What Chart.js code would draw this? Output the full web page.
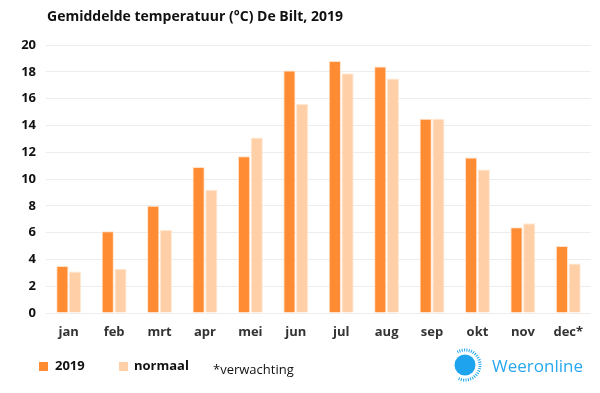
<!DOCTYPE html>
<html><head><meta charset="utf-8">
<script src="https://cdn.jsdelivr.net/npm/chart.js@4"></script>
<style>
html,body{margin:0;padding:0;background:#fff;}
#wrap{position:relative;width:600px;height:393px;font-family:"Open Sans",sans-serif;}
#c{position:absolute;left:0;top:0;}
.t{position:absolute;white-space:nowrap;color:#111;}
.sq{position:absolute;width:9px;height:9px;}
</style></head><body>
<div id="wrap">
<canvas id="c" width="600" height="393"></canvas>
<div class="t" style="left:47px;top:6px;font-size:14px;font-weight:700;">Gemiddelde temperatuur (°C) De Bilt, 2019</div>
<div class="sq" style="left:39px;top:362px;background:#FF8C33"></div>
<div class="t" style="left:55px;top:356px;font-size:13px;font-weight:700;">2019</div>
<div class="sq" style="left:119px;top:362px;background:#FFD0A8"></div>
<div class="t" style="left:134px;top:356px;font-size:13px;font-weight:700;">normaal</div>
<div class="t" style="left:213px;top:360px;font-size:13px;">*verwachting</div>
<svg style="position:absolute;left:448px;top:348px" width="34" height="34">
<circle cx="17" cy="17" r="10.5" fill="#1EA4EE"/>
<path d="M 9.5 4.0 A 15 15 0 1 1 9.5 30.0" fill="none" stroke="#1EA4EE" stroke-width="3" style="stroke-dasharray:1 1.3"/>
</svg>
<div class="t" style="left:492px;top:354px;font-size:17px;color:#29A8F0;font-weight:500;">Weeronline</div>
</div>
<script>
const months = ["jan","feb","mrt","apr","mei","jun","jul","aug","sep","okt","nov","dec*"];
const temp2019 = [3.5,6.1,8.0,10.9,11.7,18.1,18.8,18.4,14.5,11.6,6.4,5.0];
const normaal = [3.1,3.3,6.2,9.2,13.1,15.6,17.9,17.5,14.5,10.7,6.7,3.7];
const yTicks = [0,2,4,6,8,10,12,14,16,18,20];

new Chart(document.getElementById('c'), {
  type: 'bar',
  data: {
    labels: months,
    datasets: [
      {label:'2019', data: temp2019, backgroundColor:'#FF8C33', borderColor:'#FFE3CC', borderWidth:{left:1,right:1,top:1,bottom:0}},
      {label:'normaal', data: normaal, backgroundColor:'#FFD0A8', borderColor:'#FFE8D4', borderWidth:{left:1,right:1,top:1,bottom:0}}
    ]
  },
  options: {
    responsive:false, animation:false,
    layout:{padding:{top:45,bottom:50,left:0,right:9}},
    plugins:{legend:{display:false},tooltip:{enabled:false}},
    datasets:{bar:{barPercentage:0.96,categoryPercentage:0.56}},
    scales:{
      x:{grid:{display:false},border:{display:false},
         ticks:{color:'#333',font:{family:'Open Sans',size:13,weight:'bold'},padding:3},
         afterFit(s){s.height=30;}},
      y:{min:0,max:20,
         afterBuildTicks(s){s.ticks=yTicks.map(v=>({value:v}));},
         grid:{color:'#EDEDED',drawTicks:false},border:{display:false},
         ticks:{color:'#111',font:{family:'Open Sans',size:13,weight:'bold'},padding:10},
         afterFit(s){s.width=46;}}
    }
  }
});
</script>
</body></html>
